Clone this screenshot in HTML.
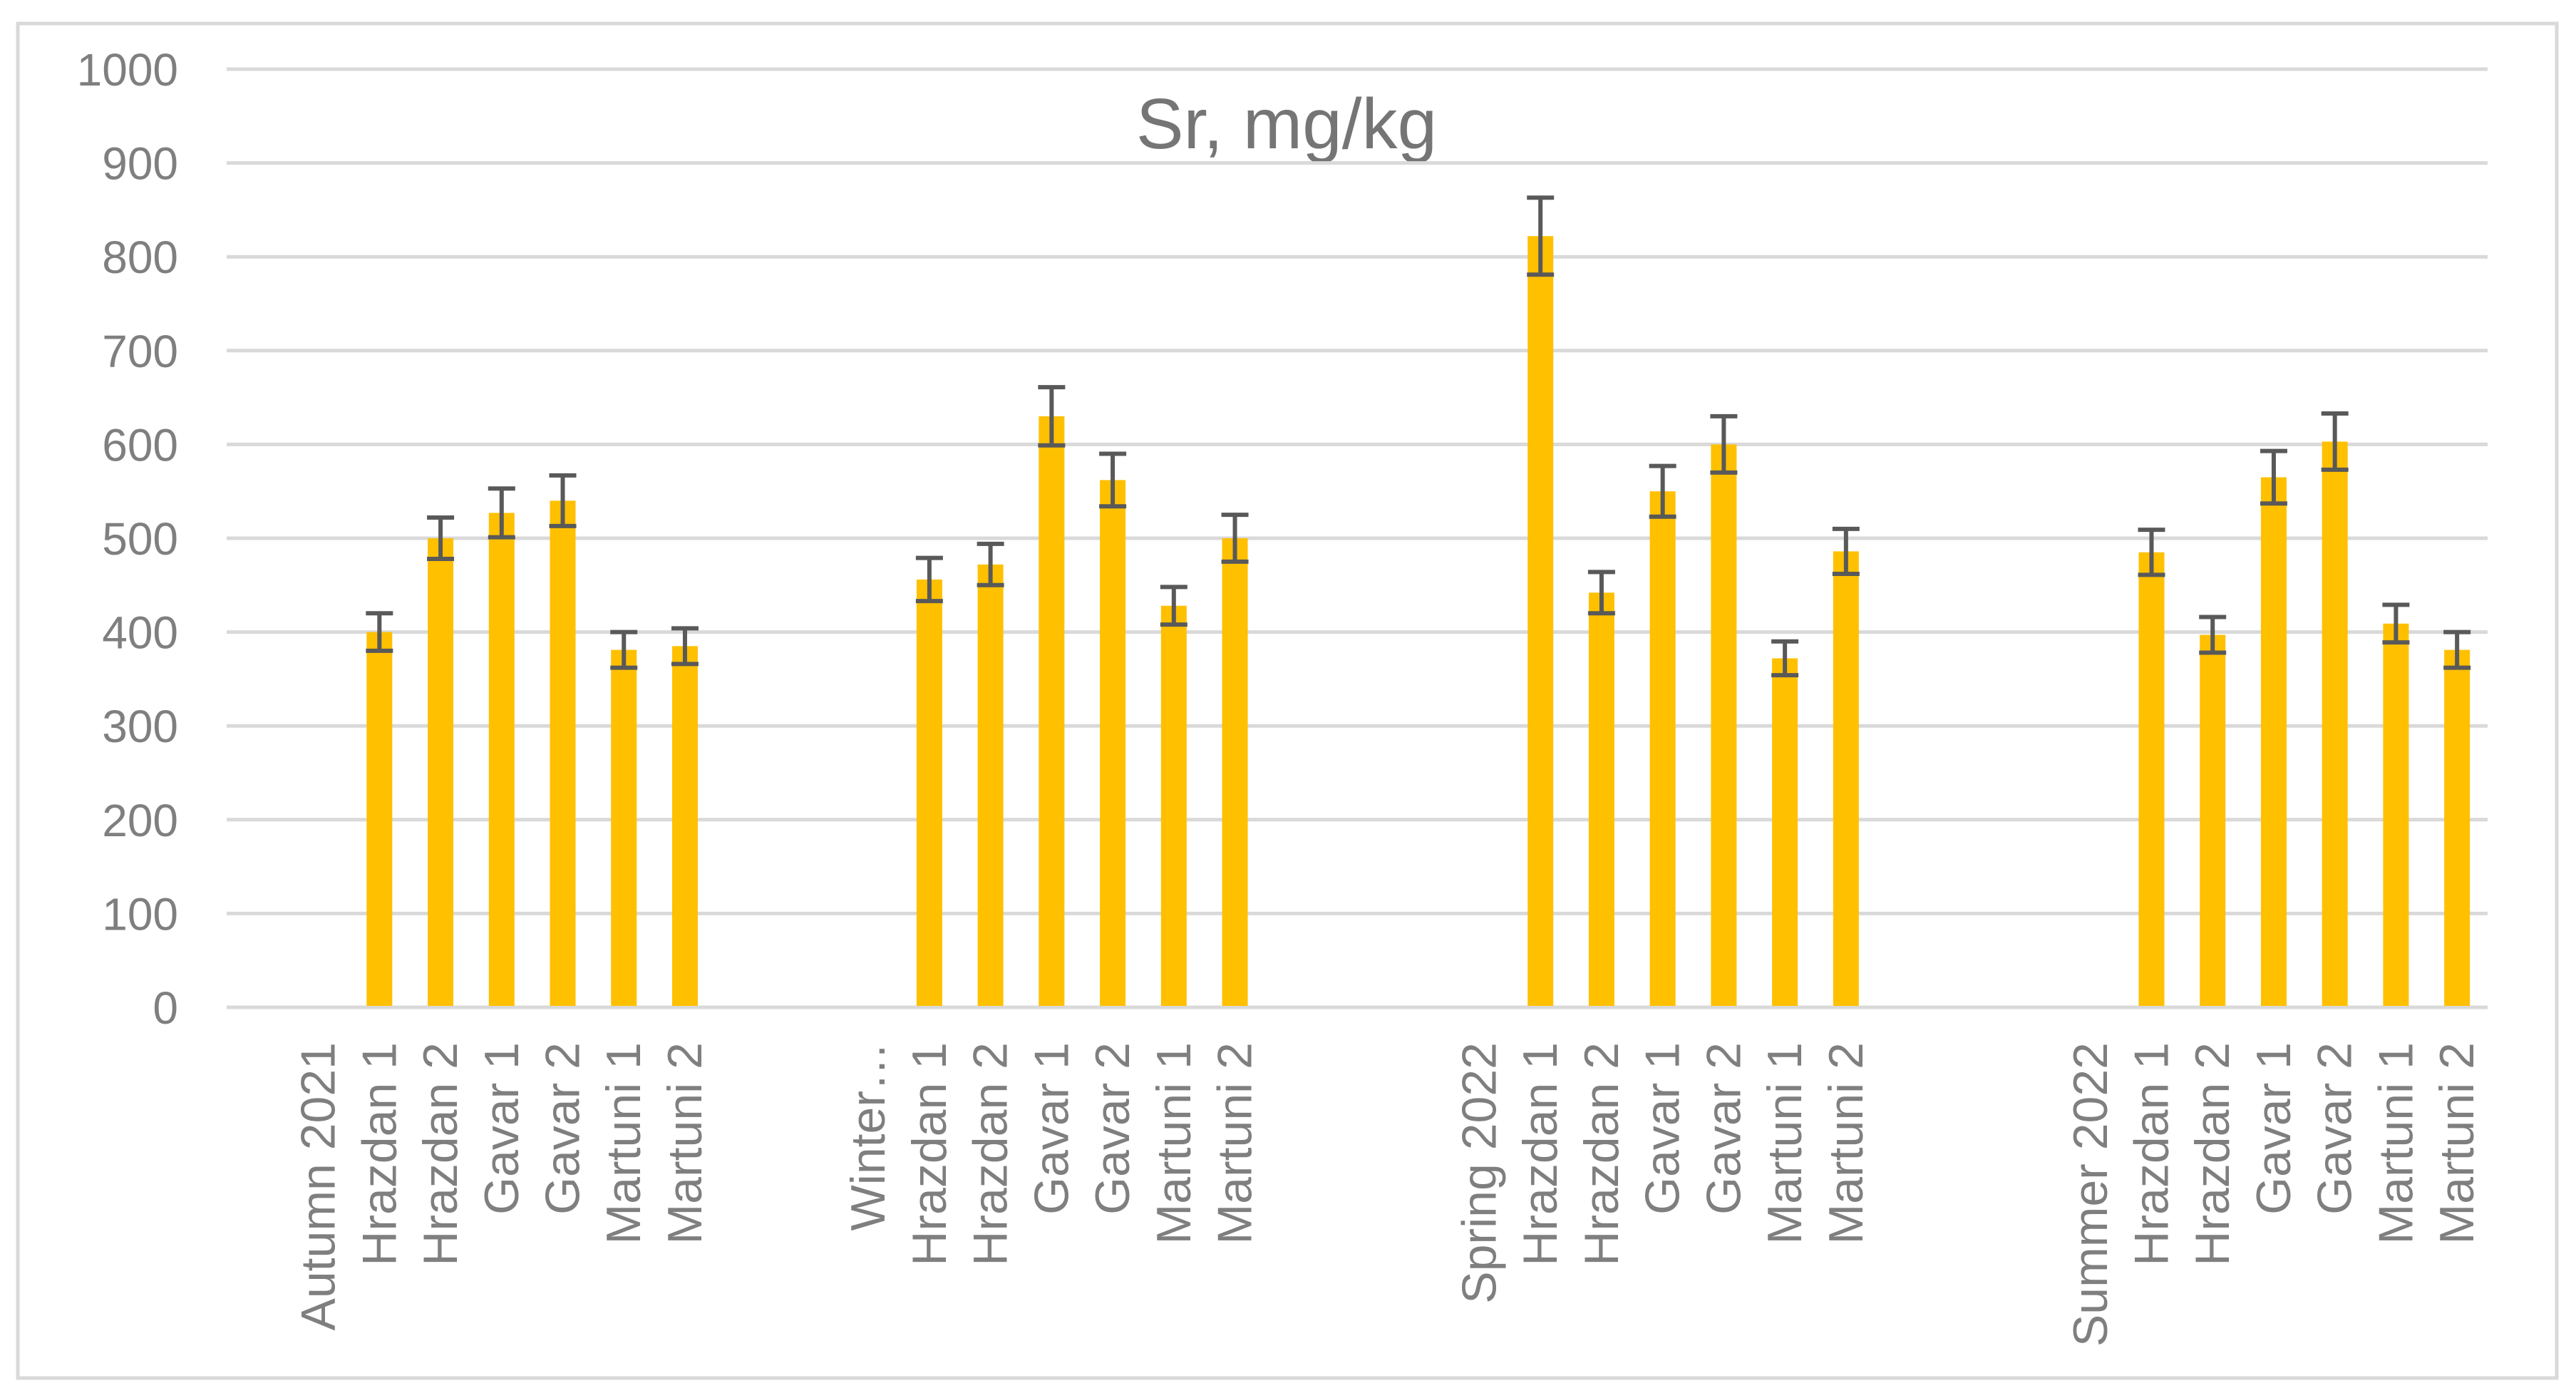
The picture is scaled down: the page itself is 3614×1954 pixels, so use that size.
<!DOCTYPE html>
<html><head><meta charset="utf-8"><style>
html,body{margin:0;padding:0;background:#fff;}
svg{display:block;font-family:"Liberation Sans",sans-serif;}
</style></head><body>
<svg id="chart" width="3614" height="1954" viewBox="0 0 3614 1954" xmlns="http://www.w3.org/2000/svg">
<rect x="25" y="33" width="3562" height="1900" fill="#fff" stroke="#d9d9d9" stroke-width="5"/>
<text x="1805" y="208" text-anchor="middle" font-size="100" fill="#757575">Sr, mg/kg</text>
<g id="grid"></g><g id="bars"></g><g id="labels"></g>
</svg>
<script>
const categories = ["", "Autumn 2021","Hrazdan 1","Hrazdan 2","Gavar 1","Gavar 2","Martuni 1","Martuni 2","","",
 "Winter…","Hrazdan 1","Hrazdan 2","Gavar 1","Gavar 2","Martuni 1","Martuni 2","","","",
 "Spring 2022","Hrazdan 1","Hrazdan 2","Gavar 1","Gavar 2","Martuni 1","Martuni 2","","","",
 "Summer 2022","Hrazdan 1","Hrazdan 2","Gavar 1","Gavar 2","Martuni 1","Martuni 2"];
const values = [null,null,400,500,527,540,381,385,null,null,
 null,456,472,630,562,428,500,null,null,null,
 null,822,442,550,600,372,486,null,null,null,
 null,485,397,565,603,409,381];
const errors = [0,0,20,22,26,27,19,19,0,0,
 0,23,22,31,28,20,25,0,0,0,
 0,41,22,27,30,18,24,0,0,0,
 0,24,19,28,30,20,19];
const yTicks = [0,100,200,300,400,500,600,700,800,900,1000];

const NS="http://www.w3.org/2000/svg";
const X0=318, X1=3490, Y0=1413, Y1=97, YMAX=1000;
const slot=(X1-X0)/categories.length;
const xC=i=>X0+slot*(i+0.5);
const yS=v=>Y0-(v/YMAX)*(Y0-Y1);
function mk(tag,attrs,parent){const e=document.createElementNS(NS,tag);for(const k in attrs)e.setAttribute(k,attrs[k]);parent.appendChild(e);return e;}
const grid=document.getElementById('grid'),bars=document.getElementById('bars'),labels=document.getElementById('labels');
yTicks.forEach(t=>{
  const l=mk('line',{x1:X0,x2:X1,y1:yS(t),y2:yS(t),stroke:'#d9d9d9','stroke-width':5},grid);
  
  
  const tx=mk('text',{x:250,y:yS(t)+23,'text-anchor':'end','font-size':64,fill:'#7f7f7f'},grid);
  tx.textContent=t;
  
  
});
const bw=36, cw=38;
values.forEach((v,i)=>{
  if(v==null)return;
  const x=xC(i);
  const r=mk('rect',{x:x-bw/2,y:yS(v),width:bw,height:Y0-yS(v)-2,fill:'#ffc000'},bars);
  
  
  const e=errors[i], yt=yS(v+e), yb=yS(v-e);
  const g=mk('path',{d:`M${x},${yt}V${yb}M${x-cw/2},${yt}H${x+cw/2}M${x-cw/2},${yb}H${x+cw/2}`,stroke:'#595959','stroke-width':6,fill:'none'},bars);
  
  
});
categories.forEach((c,i)=>{
  if(!c)return;
  const x=xC(i)+23, y=1462;
  const t=mk('text',{x:x,y:y,'text-anchor':'end','font-size':68,fill:'#7f7f7f',transform:`rotate(-90 ${x} ${y})`},labels);
  t.textContent=c;
  
  
});
</script>
</body></html>
